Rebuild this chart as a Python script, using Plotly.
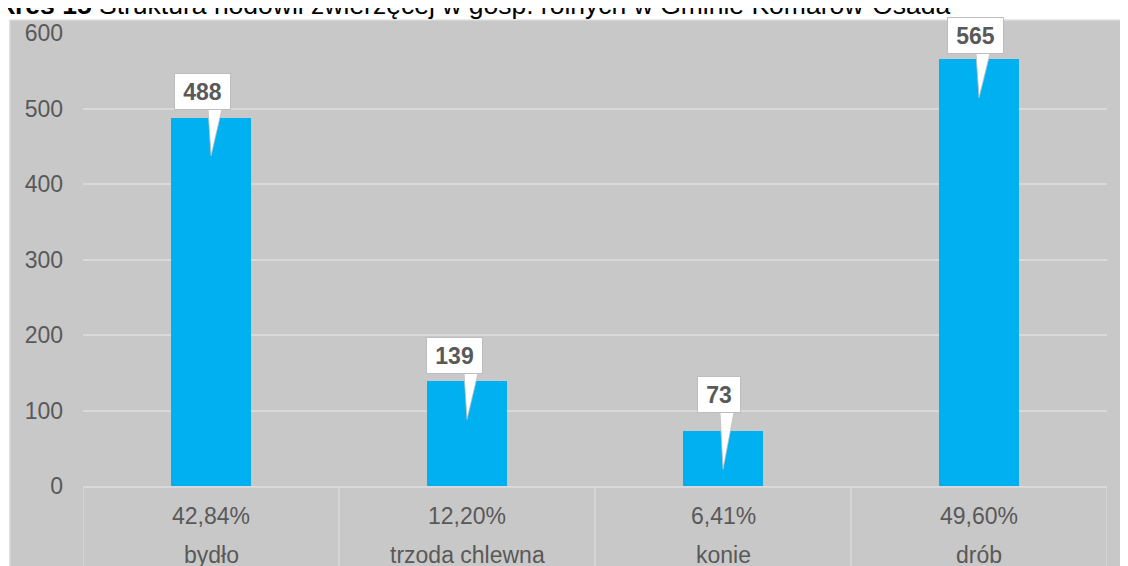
import plotly.graph_objects as go

# ---- data ----
categories = ["bydło", "trzoda chlewna", "konie", "drób"]
values = [488, 139, 73, 565]
shares = ["42,84%", "12,20%", "6,41%", "49,60%"]
y_ticks = [0, 100, 200, 300, 400, 500, 600]
title_bold = "Wykres 15"
title_rest = "Struktura hodowli zwierzęcej w gosp. rolnych w Gminie Komarów-Osada"

# ---- layout geometry / style ----
OFF = 8  # default page margin of the html body
W, H = 1128 - OFF, 566 - OFF
ML, MR, MT, MB = 83 - OFF, 21, 24 - OFF, 80
PW, PH = W - ML - MR, H - MT - MB
n = len(categories)
x_range = [-0.5, n - 0.5]
y_range = [y_ticks[0], y_ticks[-1]]
px_x = PW / (x_range[1] - x_range[0])   # pixels per x unit
px_y = PH / (y_range[1] - y_range[0])   # pixels per y unit


def paper_x(page_px):
    return (page_px - OFF - ML) / PW


def paper_y(page_py):
    return (MT + PH - (page_py - OFF)) / PH


BG = "#C8C8C8"
GRID = "#D9D9D9"
BAR = "#00B0F0"
TXT = "#595959"
FONT = "Liberation Sans, Arial, sans-serif"

# callout placement tweaks (pixels)
callout_dx = [-9, -13, -4, -4]
callout_gap = [8, 7, 18, 5]
tip_depth = 39
wedge_base = (-3, 11)

xs = list(range(n))

fig = go.Figure()
fig.add_trace(go.Bar(x=xs, y=values, width=0.31, marker=dict(color=BAR, line=dict(width=0)),
                     hoverinfo="skip", showlegend=False))

annotations = []
for i, v in enumerate(values):
    # wedge pointer
    yb = v + callout_gap[i] / px_y + 1 / px_y
    wx = [i + wedge_base[0] / px_x, i + wedge_base[1] / px_x, i, i + wedge_base[0] / px_x]
    wy = [yb, yb, v - tip_depth / px_y, yb]
    fig.add_trace(go.Scatter(x=wx, y=wy, mode="lines", fill="toself", fillcolor="white",
                             line=dict(color="#BDBDBD", width=0.8), hoverinfo="skip",
                             showlegend=False))
    label = str(v)
    annotations.append(dict(
        x=i, y=v, xref="x", yref="y", text=f"<b>{label}</b>", showarrow=False,
        xanchor="center", yanchor="bottom", xshift=callout_dx[i], yshift=callout_gap[i],
        font=dict(family=FONT, size=23, color=TXT), bgcolor="white",
        bordercolor="#BDBDBD", borderwidth=1, borderpad=1,
        width=13 * len(label) + 14, height=33, align="center"))
    # table row labels
    annotations.append(dict(x=i, y=0, xref="x", yref="paper", text=shares[i], showarrow=False,
                            yshift=-30, yanchor="middle",
                            font=dict(family=FONT, size=23, color=TXT)))
    annotations.append(dict(x=i, y=0, xref="x", yref="paper", text=categories[i], showarrow=False,
                            yshift=-69, yanchor="middle",
                            font=dict(family=FONT, size=23, color=TXT)))

# title (partly outside the visible page, as in the reference)
annotations.append(dict(
    x=paper_x(-39.75), y=paper_y(12), xref="paper", yref="paper",
    xanchor="left", yanchor="bottom", showarrow=False, borderpad=0,
    text=f"<b>{title_bold}</b> {title_rest}",
    font=dict(family=FONT, size=26.5, color="black")))

shapes = [
    dict(type="rect", xref="paper", yref="paper", layer="below",
         x0=paper_x(10), x1=paper_x(1135),
         y0=paper_y(580), y1=paper_y(11),
         fillcolor=BG, line=dict(color="#D6D6D6", width=1.5)),
]
for k in range(n + 1):
    xb = x_range[0] + k
    shapes.append(dict(type="line", xref="x", yref="paper", x0=xb, x1=xb,
                       y0=0, y1=paper_y(580), line=dict(color=GRID, width=1.5), layer="above"))

fig.update_layout(
    width=W, height=H, margin=dict(l=ML, r=MR, t=MT, b=MB, pad=0),
    paper_bgcolor="white", plot_bgcolor=BG,
    font=dict(family=FONT, size=23, color=TXT),
    xaxis=dict(range=x_range, showgrid=False, zeroline=False, showticklabels=False,
               showline=True, linecolor=GRID, linewidth=1.5, fixedrange=True),
    yaxis=dict(range=y_range, tickvals=y_ticks, showgrid=True, gridcolor=GRID, gridwidth=1.5,
               zeroline=False, ticks="", ticklabelstandoff=19,
               tickfont=dict(family=FONT, size=23, color=TXT), fixedrange=True),
    annotations=annotations, shapes=shapes, bargap=0, showlegend=False,
)

fig.write_html("out.html")
